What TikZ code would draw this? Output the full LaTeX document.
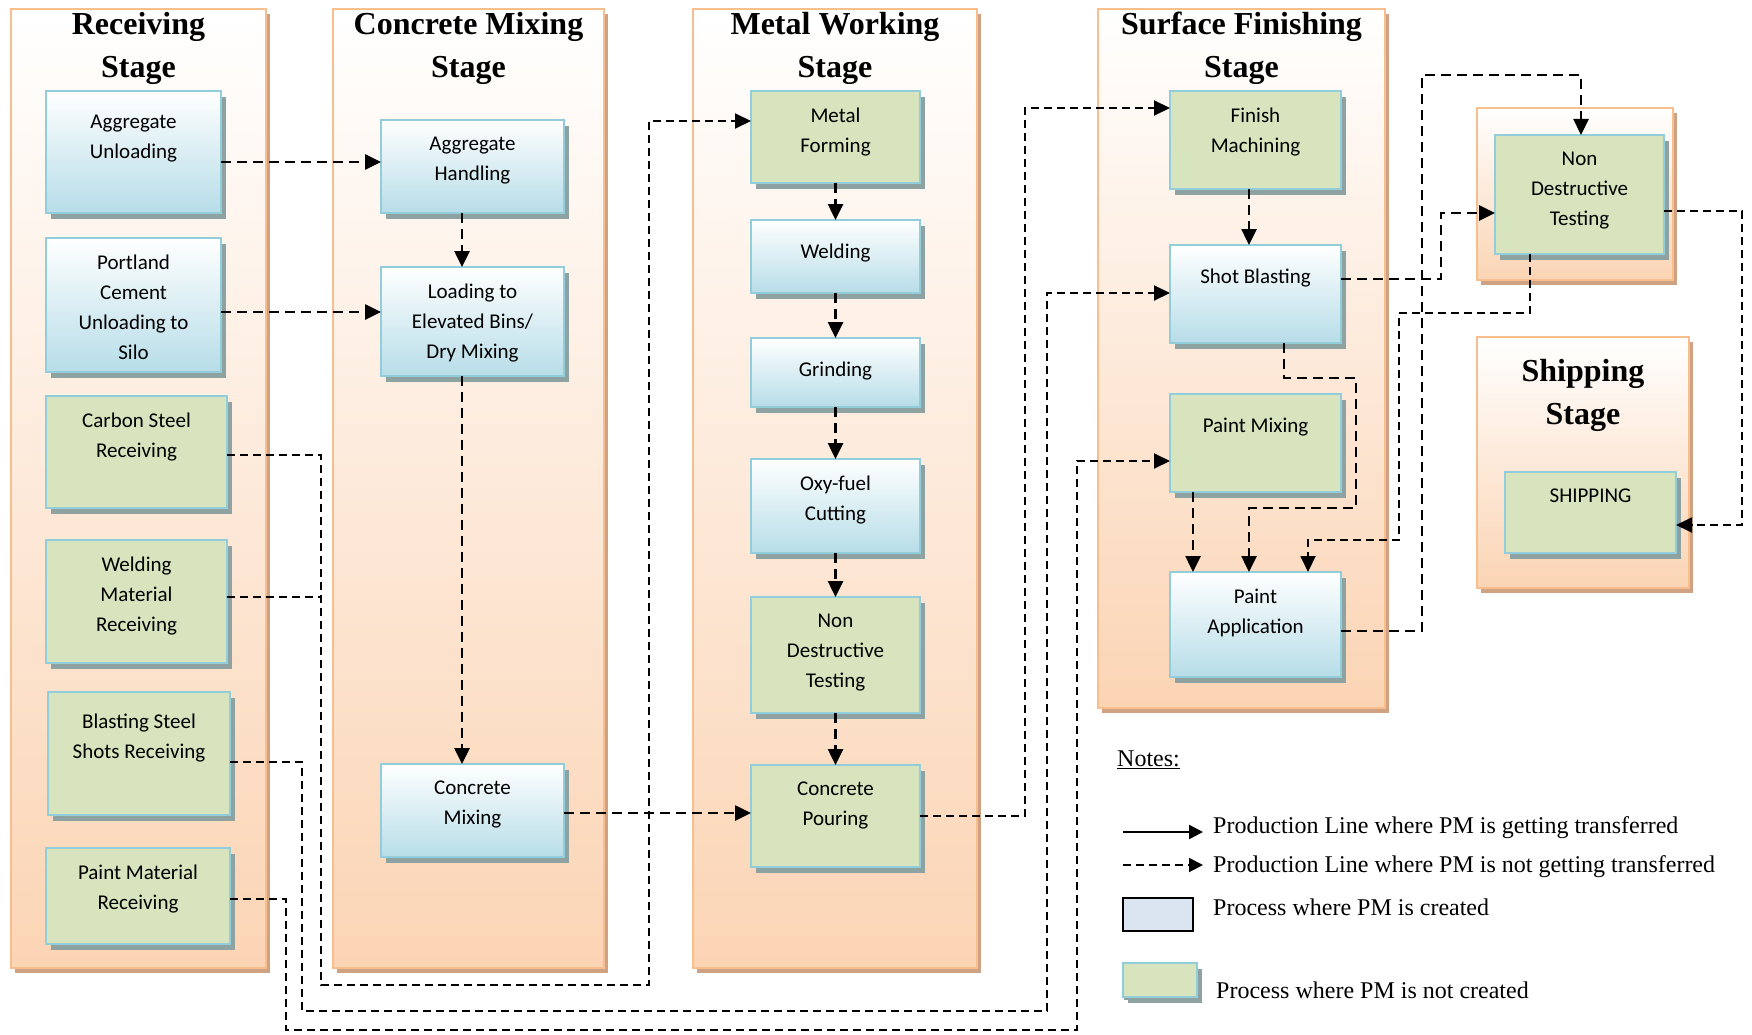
\documentclass[tikz,border=0pt]{standalone}
\usepackage{fontspec}
\setmainfont{Liberation Serif}
\newfontfamily\calibri{Carlito}
\usetikzlibrary{positioning, arrows.meta, shadows}

\definecolor{boxblue}{HTML}{B7DDE8}
\definecolor{boxgreen}{HTML}{D7E4BD}
\definecolor{boxedge}{HTML}{92CDDC}
\definecolor{boxshade}{HTML}{8FA2A2}
\definecolor{peach}{HTML}{FBD4B4}
\definecolor{peachedge}{HTML}{F9BE8E}
\definecolor{peachshade}{HTML}{CFA283}
\definecolor{keyblue}{HTML}{DBE5F1}

\begin{document}
\begin{tikzpicture}
    [
        x=1pt, y=1pt, node distance=150pt, on grid,
        stage_box/.style={rectangle, draw=peachedge, line width=2.5pt, top color=white, bottom color=peach, inner sep=0pt, outer sep=0pt,
            drop shadow={shadow xshift=4pt, shadow yshift=-5pt, fill=peachshade, opacity=1}},
        stage_title/.style={anchor=north, yshift=-3pt, inner sep=0pt, align=center, font=\fontsize{32}{43}\selectfont\bfseries, execute at begin node=\strut},
        proc_box/.style={rectangle, draw=boxedge, line width=2.5pt, inner sep=0pt, outer sep=0pt, minimum width=171pt,
            drop shadow={shadow xshift=5pt, shadow yshift=-6pt, fill=boxshade, opacity=1}},
        blue_box/.style={proc_box, top color=white, bottom color=boxblue},
        green_box/.style={proc_box, fill=boxgreen},
        proc_text/.style={anchor=north, yshift=-17pt, inner sep=0pt, align=center, font=\calibri\fontsize{21}{30}\selectfont, execute at begin node=\strut},
        flow/.style={line width=2.6pt, dash pattern=on 10pt off 6pt, -{Triangle[length=16pt, width=15pt]}},
        feed/.style={line width=1.9pt, dash pattern=on 8pt off 5pt, -{Triangle[length=16pt, width=15pt]}},
        key_text/.style={anchor=base west, inner sep=0pt, font=\fontsize{24}{28}\selectfont},
    ]
        \useasboundingbox (0,0) rectangle (1752,-1035);

        % stages
        \node[stage_box, minimum width=255pt, minimum height=959pt, label={[stage_title]north:{Receiving\\Stage}}] (recvst) at (138.5,-488.5) {};
        \node[stage_box, minimum width=271pt, minimum height=959pt, label={[stage_title]north:{Concrete Mixing\\Stage}}] (mixst) at (468.5,-488.5) {};
        \node[stage_box, minimum width=284pt, minimum height=959pt, label={[stage_title]north:{Metal Working\\Stage}}] (metst) at (835,-488.5) {};
        \node[stage_box, minimum width=287pt, minimum height=699pt, label={[stage_title]north:{Surface Finishing\\Stage}}] (surfst) at (1241.5,-358.5) {};
        \node[stage_box, minimum width=196pt, minimum height=172pt] (ndtst) at (1575,-194) {};
        \node[stage_box, minimum width=212pt, minimum height=251pt, label={[stage_title, yshift=-19pt]north:{Shipping\\Stage}}] (shipst) at (1583,-462.5) {};

        % receiving
        \node[blue_box, minimum width=175pt, minimum height=122pt, label={[proc_text, yshift=-7pt]north:{Aggregate\\Unloading}}] (aggunl) at (133.5,-152) {};
        \node[blue_box, minimum width=175pt, minimum height=134pt, label={[proc_text]north:{Portland\\Cement\\Unloading to\\Silo}}] (cemunl) [below=153pt of aggunl] {};
        \node[green_box, minimum width=181pt, minimum height=112pt, label={[proc_text]north:{Carbon Steel\\Receiving}}] (steelrec) [below=147pt of cemunl, xshift=3pt] {};
        \node[green_box, minimum width=181pt, minimum height=123pt, label={[proc_text]north:{Welding\\Material\\Receiving}}] (weldrec) [below=149.5pt of steelrec] {};
        \node[green_box, minimum width=182pt, minimum height=123pt, label={[proc_text, yshift=-5pt]north:{Blasting Steel\\Shots Receiving}}] (shotrec) [below=152pt of weldrec, xshift=2.5pt] {};
        \node[green_box, minimum width=184pt, minimum height=96pt, label={[proc_text]north:{Paint Material\\Receiving}}] (paintrec) [below=142.5pt of shotrec, xshift=-1pt] {};

        % concrete mixing
        \node[blue_box, minimum width=183pt, minimum height=93pt, label={[proc_text]north:{Aggregate\\Handling}}] (agghand) at (472.5,-166.5) {};
        \node[blue_box, minimum width=183pt, minimum height=109pt, label={[proc_text]north:{Loading to\\Elevated Bins/\\Dry Mixing}}] (loadmix) [below=155pt of agghand] {};
        \node[blue_box, minimum width=183pt, minimum height=93pt, label={[proc_text]north:{Concrete\\Mixing}}] (conmix) [below=489pt of loadmix] {};

        % metal working
        \node[green_box, minimum width=169pt, minimum height=92pt, label={[proc_text]north:{Metal\\Forming}}] (metform) at (835.5,-137) {};
        \node[blue_box, minimum width=169pt, minimum height=73pt, label={[proc_text]north:{Welding}}] (weld) [below=119.5pt of metform] {};
        \node[blue_box, minimum width=169pt, minimum height=69pt, label={[proc_text]north:{Grinding}}] (grind) [below=116pt of weld] {};
        \node[blue_box, minimum width=169pt, minimum height=94pt, label={[proc_text]north:{Oxy-fuel\\Cutting}}] (oxycut) [below=133.5pt of grind] {};
        \node[green_box, minimum width=169pt, minimum height=116pt, label={[proc_text]north:{Non\\Destructive\\Testing}}] (ndtmet) [below=149pt of oxycut] {};
        \node[green_box, minimum width=169pt, minimum height=102pt, label={[proc_text]north:{Concrete\\Pouring}}] (conpour) [below=161pt of ndtmet] {};

        % surface finishing
        \node[green_box, minimum height=98pt, label={[proc_text]north:{Finish\\Machining}}] (finmach) at (1255.5,-140) {};
        \node[blue_box, minimum height=98pt, label={[proc_text]north:{Shot Blasting}}] (shotbl) [below=154pt of finmach] {};
        \node[green_box, minimum height=98pt, label={[proc_text]north:{Paint Mixing}}] (paintmix) [below=149pt of shotbl] {};
        \node[blue_box, minimum height=105pt, label={[proc_text]north:{Paint\\Application}}] (paintapp) [below=181.5pt of paintmix] {};

        \node[green_box, minimum width=169pt, minimum height=119pt, label={[proc_text]north:{Non\\Destructive\\Testing}}] (ndtsf) at (1579.5,-194.5) {};
        \node[green_box, minimum height=81pt, label={[proc_text, yshift=7.5pt]north:{SHIPPING}}] (shipping) [below=318pt of ndtsf, xshift=11pt] {};

        % production lines
        \draw[flow] (aggunl.east |- 0,-162) -- (agghand.west |- 0,-162);
        \draw[flow] (cemunl.east |- 0,-312) -- (loadmix.west |- 0,-312);
        \draw[flow] (agghand.south -| 462,0) -- (loadmix.north -| 462,0);
        \draw[flow] (loadmix.south -| 462,0) -- (conmix.north -| 462,0);
        \draw[flow] (conmix.east |- 0,-813) -- (conpour.west |- 0,-813);
        \draw[flow] (metform) -- (weld);
        \draw[flow] (weld) -- (grind);
        \draw[flow] (grind) -- (oxycut);
        \draw[flow] (oxycut) -- (ndtmet);
        \draw[flow] (ndtmet) -- (conpour);
        \draw[flow] (finmach.south -| 1249,0) -- (shotbl.north -| 1249,0);
        \draw[flow] (paintmix.south -| 1193,0) -- (paintapp.north -| 1193,0);
        \draw[flow] (shotbl.south -| 1284,0) |- (1356,-378) |- (1249,-508) -- (paintapp.north -| 1249,0);
        \draw[flow] (shotbl.east |- 0,-279) -| (1441,-213) -- (ndtsf.west |- 0,-213);
        \draw[flow] (paintapp.east |- 0,-631) -| (1422,-75) -| (ndtsf.north -| 1581,0);

        \coordinate (steeljoin) at (321,-597);
        \draw[feed] (conpour.east) -| (1025,-108) -- (finmach.west |- 0,-108);
        \draw[feed] (steelrec.east |- 0,-455) -| (321,-985) -| (649,-121) -- (metform.west |- 0,-121);
        \draw[feed, -] (weldrec.east |- steeljoin) -- (steeljoin);
        \draw[feed] (shotrec.east |- 0,-762) -| (302,-1011) -| (1047,-293) -- (shotbl.west |- 0,-293);
        \draw[feed] (paintrec.east |- 0,-899) -| (286,-1030) -| (1077,-461) -- (paintmix.west |- 0,-461);
        \draw[feed] (ndtsf.south -| 1530,0) |- (1399,-313) |- (1308,-540) -- (paintapp.north -| 1308,0);
        \draw[feed] (ndtsf.east |- 0,-211) -| (1742,-525) -- (shipping.east |- 0,-525);

        % notes
        \node[key_text] (notes) at (1117,-766) {\underline{Notes:}};
        \coordinate (solidA) at (1123,-832);
        \coordinate (solidB) at (1203,-832);
        \coordinate (dashA) at (1123,-865);
        \coordinate (dashB) at (1203,-865);
        \draw[line width=2.4pt, -{Triangle[length=14pt, width=14pt]}] (solidA) -- (solidB);
        \draw[feed, -{Triangle[length=14pt, width=14pt]}] (dashA) -- (dashB);
        \node[key_text] (keyline) at (1213,-833) {Production Line where PM is getting transferred};
        \node[key_text] (keydash) at (1213,-872) {Production Line where PM is not getting transferred};
        \node[draw=black, line width=2.5pt, fill=keyblue, minimum width=70pt, minimum height=33pt, inner sep=0pt] (keycreated) at (1158,-914.5) {};
        \node[key_text] (keycrtext) at (1213,-915) {Process where PM is created};
        \node[green_box, line width=1.2pt, minimum width=74pt, minimum height=34pt, drop shadow={shadow xshift=1pt, shadow yshift=-3pt, fill=boxshade, opacity=1}] (keynotcr) at (1160,-980) {};
        \node[key_text] (keynctext) at (1216,-998) {Process where PM is not created};
    \end{tikzpicture}
\end{document}
